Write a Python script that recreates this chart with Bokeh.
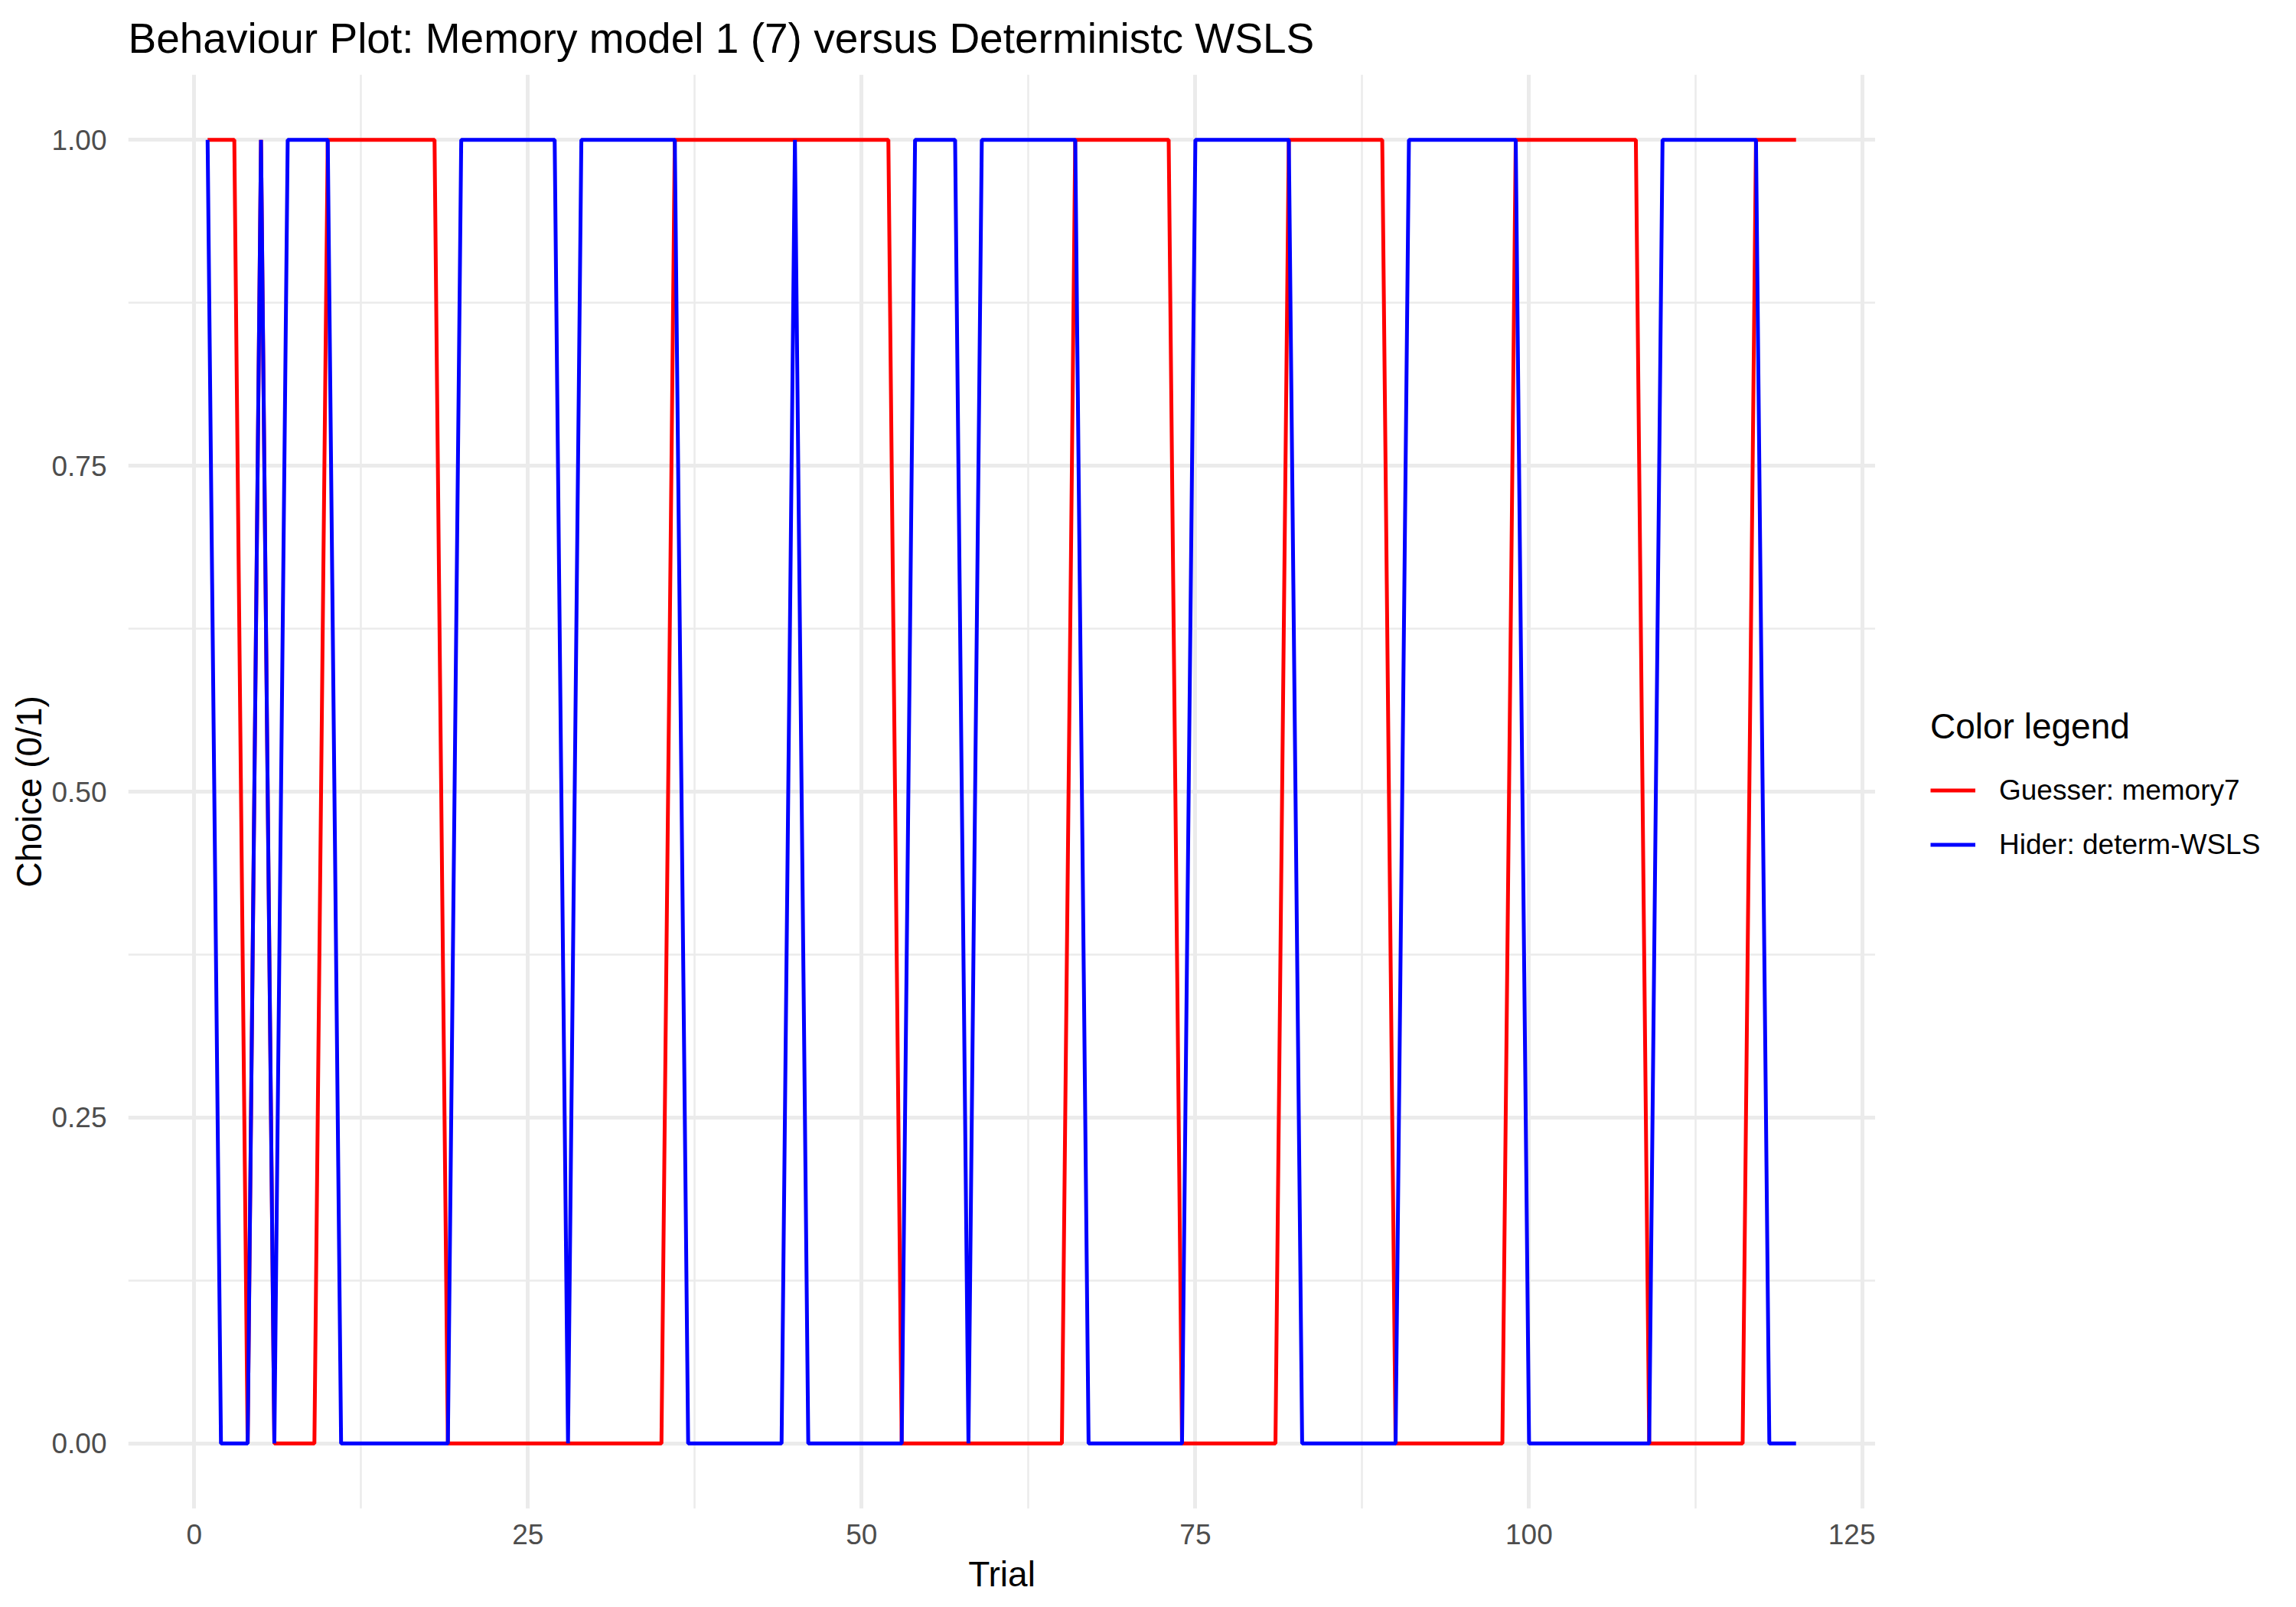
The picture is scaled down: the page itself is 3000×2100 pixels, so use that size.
from bokeh.plotting import figure
from bokeh.layouts import row
from bokeh.models import Range1d, FixedTicker, PrintfTickFormatter, Legend, LegendItem, ColumnDataSource
from bokeh.embed import file_html
from bokeh.resources import INLINE

# ---- data ----
trial = list(range(1, 121))

guesser_memory7 = [
    1, 1, 1, 0, 1, 0, 0, 0, 0, 1, 1, 1, 1, 1, 1, 1, 1, 1, 0, 0,
    0, 0, 0, 0, 0, 0, 0, 0, 0, 0, 0, 0, 0, 0, 0, 1, 1, 1, 1, 1,
    1, 1, 1, 1, 1, 1, 1, 1, 1, 1, 1, 1, 0, 0, 0, 0, 0, 0, 0, 0,
    0, 0, 0, 0, 0, 1, 1, 1, 1, 1, 1, 1, 1, 0, 0, 0, 0, 0, 0, 0,
    0, 1, 1, 1, 1, 1, 1, 1, 1, 0, 0, 0, 0, 0, 0, 0, 0, 0, 1, 1,
    1, 1, 1, 1, 1, 1, 1, 1, 0, 0, 0, 0, 0, 0, 0, 0, 1, 1, 1, 1,
]

hider_determ_wsls = [
    1, 0, 0, 0, 1, 0, 1, 1, 1, 1, 0, 0, 0, 0, 0, 0, 0, 0, 0, 1,
    1, 1, 1, 1, 1, 1, 1, 0, 1, 1, 1, 1, 1, 1, 1, 1, 0, 0, 0, 0,
    0, 0, 0, 0, 1, 0, 0, 0, 0, 0, 0, 0, 0, 1, 1, 1, 1, 0, 1, 1,
    1, 1, 1, 1, 1, 1, 0, 0, 0, 0, 0, 0, 0, 0, 1, 1, 1, 1, 1, 1,
    1, 1, 0, 0, 0, 0, 0, 0, 0, 0, 1, 1, 1, 1, 1, 1, 1, 1, 1, 0,
    0, 0, 0, 0, 0, 0, 0, 0, 0, 1, 1, 1, 1, 1, 1, 1, 1, 0, 0, 0,
]

series_labels = ["Guesser: memory7", "Hider: determ-WSLS"]
series_colors = ["#FF0000", "#0000FF"]

x_ticks = [0, 25, 50, 75, 100, 125]
x_minor = [12.5, 37.5, 62.5, 87.5, 112.5]
y_ticks = [0.0, 0.25, 0.5, 0.75, 1.0]
y_minor = [0.125, 0.375, 0.625, 0.875]

FONT = "Liberation Sans"

p = figure(
    frame_width=2283, frame_height=1874,
    output_backend="svg", toolbar_location=None,
    x_range=Range1d(-4.95, 125.95), y_range=Range1d(-0.05, 1.05),
    min_border_left=167, min_border_right=0,
    min_border_top=97, min_border_bottom=129,
)
p.outline_line_color = None
p.background_fill_color = "white"
p.border_fill_color = "white"

# title
p.title.text = "Behaviour Plot: Memory model 1 (7) versus Deterministc WSLS"
p.title.text_font = FONT
p.title.text_font_size = "55px"
p.title.text_font_style = "normal"
p.title.text_color = "black"
p.title.text_line_height = 0.7
p.title.align = "left"
p.title.standoff = 33

# tickers
xt = FixedTicker(ticks=x_ticks, minor_ticks=x_minor)
yt = FixedTicker(ticks=y_ticks, minor_ticks=y_minor)
p.xaxis.ticker = xt
p.yaxis.ticker = yt
p.xgrid.ticker = xt
p.ygrid.ticker = yt
p.yaxis.formatter = PrintfTickFormatter(format="%.2f")

for g in (p.xgrid, p.ygrid):
    g.grid_line_color = "#EBEBEB"
    g.grid_line_width = 5
    g.minor_grid_line_color = "#EBEBEB"
    g.minor_grid_line_width = 2.5

for ax in (p.xaxis, p.yaxis):
    ax.axis_line_color = None
    ax.major_tick_line_color = None
    ax.minor_tick_line_color = None
    ax.major_label_text_font = FONT
    ax.major_label_text_font_size = "37px"
    ax.major_label_text_color = "#4D4D4D"
    ax.axis_label_text_font = FONT
    ax.axis_label_text_font_size = "46px"
    ax.axis_label_text_font_style = "normal"
    ax.axis_label_text_color = "black"

p.xaxis.axis_label = "Trial"
p.yaxis.axis_label = "Choice (0/1)"
p.xaxis.major_label_standoff = 14
p.xaxis.axis_label_standoff = 10
p.yaxis.major_label_standoff = 22
p.yaxis.axis_label_standoff = 0

src = ColumnDataSource(dict(trial=trial, g=guesser_memory7, h=hider_determ_wsls))
p.line("trial", "g", source=src, line_color=series_colors[0], line_width=5)
p.line("trial", "h", source=src, line_color=series_colors[1], line_width=5)

# ---- legend panel (separate blank figure to the right) ----
# its ranges lie away from the data, so its own copies of the lines stay out of view
q = figure(
    width=550, height=2100,
    output_backend="svg", toolbar_location=None,
    x_range=Range1d(-1000, -999), y_range=Range1d(0, 1),
    min_border=0, title=None,
)
q.axis.visible = False
q.grid.visible = False
q.outline_line_color = None
q.background_fill_color = "white"
q.border_fill_color = "white"
k1 = q.line("trial", "g", source=src, line_color=series_colors[0], line_width=5)
k2 = q.line("trial", "h", source=src, line_color=series_colors[1], line_width=5)

legend = Legend(
    items=[LegendItem(label=series_labels[0], renderers=[k1]),
           LegendItem(label=series_labels[1], renderers=[k2])],
    title="Color legend",
    location=(72, 832),
    title_text_font=FONT, title_text_font_size="46px",
    title_text_font_style="normal", title_text_color="black",
    title_standoff=21,
    label_text_font=FONT, label_text_font_size="37px", label_text_color="black",
    glyph_width=59, glyph_height=71, label_height=71,
    label_standoff=31, spacing=0, padding=0, margin=0,
    border_line_color=None, background_fill_alpha=0,
)
q.add_layout(legend, "center")

layout = row(p, q)
open("out.html", "w").write(file_html(layout, INLINE))
